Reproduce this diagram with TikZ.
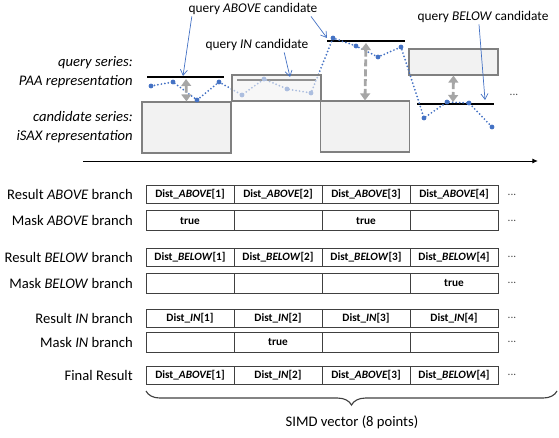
\documentclass[tikz,border=0pt]{standalone}
\usepackage{fontspec}
\setmainfont{Carlito}
\usepackage{tikz}
\usetikzlibrary{arrows.meta,decorations.pathreplacing}
\definecolor{qblue}{HTML}{4472C4}
\tikzset{
  >=latex,
}
\tikzstyle{every node}=[font=\fontsize{10.4}{13.5}\selectfont]
\tikzstyle{cell}=[draw=black!75, line width=0.6pt, minimum width=2.2cm, inner sep=0pt, font=\fontsize{8}{9}\selectfont\bfseries]
\tikzstyle{result}=[cell, minimum height=0.45cm]
\tikzstyle{mask}=[cell, minimum height=0.5cm]
\tikzstyle{rowlabel}=[anchor=east, inner sep=0pt]
\tikzstyle{sidelabel}=[anchor=east, align=right, inner sep=0pt, font=\fontsize{10.4}{13.5}\selectfont\itshape]
\tikzstyle{toplabel}=[inner sep=1pt, font=\fontsize{9.5}{11}\selectfont]
\tikzstyle{more}=[font=\fontsize{8}{9}\selectfont, black!70]
\tikzstyle{cand}=[draw=black!50, fill=black!5, line width=0.8pt, inner sep=0pt, minimum width=2.225cm]
\tikzstyle{paa}=[line width=1.8pt]
\tikzstyle{gap}=[black!35, line width=2pt, dash pattern=on 5pt off 2pt, {Triangle[length=5pt,width=7pt]}-{Triangle[length=5pt,width=7pt]}]
\tikzstyle{pointer}=[qblue, line width=0.5pt, -{Straight Barb[length=4pt,width=5pt]}]
\tikzstyle{series}=[qblue, line width=1.4pt, line cap=round, dash pattern=on 0pt off 2.5pt]

\begin{document}
\begin{tikzpicture}[x={(0.025cm,0)}, y={(0,-0.025cm)}]
    \useasboundingbox (0,0) rectangle (559,438);

    \node[sidelabel] (qlabel) at (133,72.5) {query series:\\PAA representation};
    \node[sidelabel] (clabel) at (133,127) {candidate series:\\iSAX representation};

    \node[cand, minimum height=1.275cm] (box1) at (186.5,127.5) {};
    \node[cand, minimum height=1.275cm] (box3) at (365,126.5) {};
    \node[cand, minimum height=0.65cm] (box4) at (453.5,62) {};

    \draw[paa] (147,77) -- (224,77);
    \draw[paa] (237,80) -- (316,80);
    \draw[paa] (327,41) -- (405,41);
    \draw[paa] (417,104) -- (494,104);
    \coordinate (bar1) at (186,79);
    \coordinate (bar3) at (366,43);
    \coordinate (bar4) at (453,102);

    \draw[series] plot coordinates {(151,86) (173,82) (197,100) (219,82)
      (242,95) (264,79) (287,89) (311,93) (333,38) (356,46) (378,57) (401,47)
      (424,118) (447,102) (469,103) (492,127)};
    \foreach \x/\y in {151/86,173/82,197/100,219/82,242/95,264/79,287/89,311/93,
      333/38,356/46,378/57,401/47,424/118,447/102,469/103,492/127}
      \fill[qblue] (\x,\y) circle (1.7pt);

    \node[cand, minimum height=0.65cm, fill opacity=0.6] (box2) at (276.5,88) {};

    \draw[gap] (bar1) -- (box1.north);
    \draw[gap] (bar3) -- (box3.north);
    \draw[gap] (box4.south) -- (bar4);

    \node[toplabel] (qabove) at (253,9) {query \textit{ABOVE} candidate};
    \node[toplabel] (qin) at (257,45) {query \textit{IN} candidate};
    \node[toplabel] (qbelow) at (483,17) {query \textit{BELOW} candidate};
    \coordinate (pa1) at (183,76);
    \coordinate (pa3) at (327,38);
    \coordinate (pin) at (290,77);
    \coordinate (pbe) at (485,100);
    \draw[pointer] ([xshift=0.12cm]qabove.south west) -- (pa1);
    \draw[pointer] ([xshift=-0.2cm]qabove.south east) -- (pa3);
    \draw[pointer] ([xshift=0.68cm]qin.south) -- (pin);
    \draw[pointer] ([xshift=-0.1cm]qbelow.south) -- (pbe);
    \node[more] (topmore) at (514,95) {...};

    \coordinate (axisL) at (83,161);
    \coordinate (axisR) at (538,161);
    \draw[-{Latex[length=4pt,width=3.5pt]}, line width=0.7pt] (axisL) -- (axisR);

    \node[rowlabel] (lra) at (133,194.5) {Result \textit{ABOVE} branch};
    \node[rowlabel] (lma) at (133,220.5) {Mask \textit{ABOVE} branch};
    \node[rowlabel] (lrb) at (133,257) {Result \textit{BELOW} branch};
    \node[rowlabel] (lmb) at (133,283) {Mask \textit{BELOW} branch};
    \node[rowlabel] (lri) at (133,318) {Result \textit{IN} branch};
    \node[rowlabel] (lmi) at (133,342) {Mask \textit{IN} branch};
    \node[rowlabel] (lf) at (133,375) {Final Result};

    \foreach \i in {1,...,4}
      \node[result] (ra\i) at ({190+88*(\i-1)},194.5) {Dist\_\textit{ABOVE}[\i]};
    \foreach \t [count=\i] in {true,{},true,{}}
      \node[mask] (ma\i) at ({190+88*(\i-1)},220.5) {\t};
    \foreach \i in {1,...,4}
      \node[result] (rb\i) at ({190+88*(\i-1)},257) {Dist\_\textit{BELOW}[\i]};
    \foreach \t [count=\i] in {{},{},{},true}
      \node[mask] (mb\i) at ({190+88*(\i-1)},283) {\t};
    \foreach \i in {1,...,4}
      \node[result] (ri\i) at ({190+88*(\i-1)},318) {Dist\_\textit{IN}[\i]};
    \foreach \t [count=\i] in {{},true,{},{}}
      \node[mask] (mi\i) at ({190+88*(\i-1)},342) {\t};
    \foreach \t [count=\i] in {{Dist\_\textit{ABOVE}[1]},{Dist\_\textit{IN}[2]},{Dist\_\textit{ABOVE}[3]},{Dist\_\textit{BELOW}[4]}}
      \node[result] (f\i) at ({190+88*(\i-1)},375) {\t};

    \foreach \n/\y in {ra/194.5,ma/220.5,rb/257,mb/283,ri/318,mi/342,f/375}
      \node[more] (\n more) at (512,\y) {...};

    \coordinate (simdL) at (146,391);
    \coordinate (simdR) at (557,391);
    \draw[black!75, line width=0.8pt, decorate, decoration={brace, mirror, amplitude=10pt}] (simdL) -- (simdR);
    \node (simd) at (352,422) {SIMD vector (8 points)};
  \end{tikzpicture}
\end{document}
